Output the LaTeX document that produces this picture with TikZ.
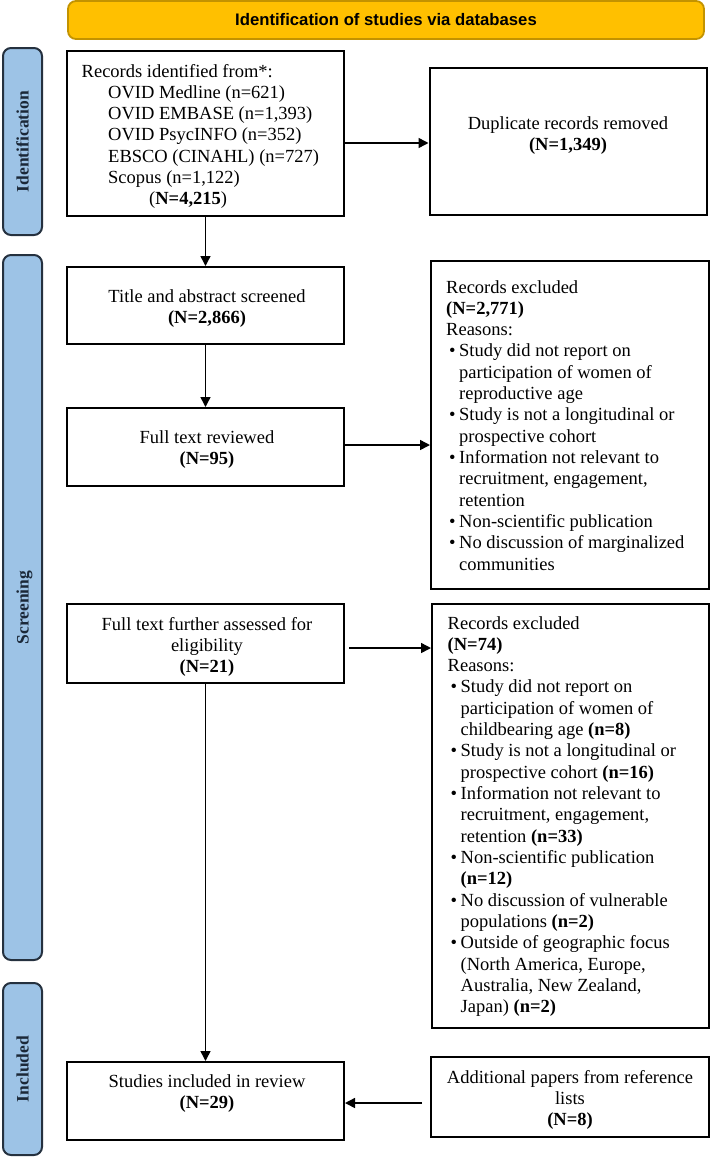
\documentclass[tikz,border=0pt]{standalone}
\usepackage{fontspec}
\setmainfont{Liberation Serif}
\newfontfamily\hdfont{Liberation Sans}
\usetikzlibrary{arrows.meta}
\definecolor{gold}{HTML}{FFC000}
\definecolor{goldline}{HTML}{C39300}
\definecolor{sideblue}{HTML}{9DC3E6}
\definecolor{sideline}{HTML}{25313F}
\definecolor{sidetext}{HTML}{1B2838}
\newcommand{\bitem}{\makebox[13pt][l]{\hspace{3pt}\textbullet}}
\newcommand{\bcont}{\hspace*{13pt}}
\begin{document}
\begin{tikzpicture}[x=1pt,y=-1pt,
  box/.style={draw=black, line width=2pt, fill=white, inner sep=0pt},
  side/.style={draw=sideline, line width=2pt, fill=sideblue, rounded corners=8pt, inner sep=0pt, minimum width=39pt},
  sidetxt/.style={rotate=90, anchor=base, text=sidetext, font=\fontsize{17.5}{20}\selectfont\bfseries, inner sep=0pt},
  txt/.style={inner sep=0pt, font=\fontsize{18.5}{21.33}\selectfont},
  arr/.style={line width=1.5pt, -{Triangle[length=10pt,width=10pt]}}]
\useasboundingbox (0,0) rectangle (710,1157);
% header
\node[draw=goldline, line width=1.8pt, fill=gold, rounded corners=8pt, minimum width=636pt, minimum height=38pt, inner sep=0pt,
  font=\hdfont\bfseries\fontsize{16.7}{20}\selectfont] (hd) at (386,20) {Identification of studies via databases};
% side bars
\node[side, minimum height=187pt] (sid) at (22.5,141.5) {};
\node[sidetxt] (sidt) at (28.5,141.5) {Identification};
\node[side, minimum height=705pt] (sscr) at (22.5,607.5) {};
\node[sidetxt] (sscrt) at (28.5,607.5) {Screening};
\node[side, minimum height=172pt] (sinc) at (22.5,1069) {};
\node[sidetxt] (sinct) at (28.5,1069) {Included};
% left column boxes
\node[box, minimum width=277pt, minimum height=165pt] (rec) at (205.5,133.5) {};
\node[box, minimum width=277pt, minimum height=77pt] (title) at (205.5,305.5) {};
\node[box, minimum width=277pt, minimum height=78pt] (full) at (205.5,447) {};
\node[box, minimum width=277pt, minimum height=79pt] (further) at (205.5,643.5) {};
\node[box, minimum width=277pt, minimum height=78pt] (studies) at (205.5,1101) {};
% right column boxes
\node[box, minimum width=277pt, minimum height=147pt] (dup) at (568,141.5) {};
\node[box, minimum width=278pt, minimum height=328pt] (ex1) at (570,425) {};
\node[box, minimum width=277pt, minimum height=424pt] (ex2) at (570.5,816) {};
\node[box, minimum width=278pt, minimum height=80pt] (add) at (570,1097) {};
% texts
\node[txt, anchor=base west] (rect) at (81.5,77) {\parbox[t]{255pt}{\raggedright
Records identified from*:\\
\hspace*{26.5pt}OVID Medline (n=621)\\
\hspace*{26.5pt}OVID EMBASE (n=1,393)\\
\hspace*{26.5pt}OVID PsycINFO (n=352)\\
\hspace*{26.5pt}EBSCO (CINAHL) (n=727)\\
\hspace*{26.5pt}Scopus (n=1,122)\\
\hspace*{67.5pt}(\textbf{N=4,215})}};
\node[txt, anchor=base] (dupt) at (568,129) {\parbox[t]{260pt}{\centering
Duplicate records removed\\ \textbf{(N=1,349)}}};
\node[txt, anchor=base] (titlet) at (207,302) {\parbox[t]{260pt}{\centering
Title and abstract screened\\ \textbf{(N=2,866)}}};
\node[txt, anchor=base] (fullt) at (207,443) {\parbox[t]{260pt}{\centering
Full text reviewed\\ \textbf{(N=95)}}};
\node[txt, anchor=base] (furthert) at (207,630) {\parbox[t]{260pt}{\centering
Full text further assessed for\\ eligibility\\ \textbf{(N=21)}}};
\node[txt, anchor=base] (studiest) at (207,1087) {\parbox[t]{260pt}{\centering
Studies included in review\\ \textbf{(N=29)}}};
\node[txt, anchor=base] (addt) at (570,1083) {\parbox[t]{270pt}{\centering
Additional papers from reference\\ lists\\ \textbf{(N=8)}}};
\node[txt, anchor=base west] (ex1t) at (446,293) {\parbox[t]{258pt}{\raggedright
Records excluded\\
\textbf{(N=2,771)}\\
Reasons:\\
\bitem Study did not report on\\
\bcont participation of women of\\
\bcont reproductive age\\
\bitem Study is not a longitudinal or\\
\bcont prospective cohort\\
\bitem Information not relevant to\\
\bcont recruitment, engagement,\\
\bcont retention\\
\bitem Non-scientific publication\\
\bitem No discussion of marginalized\\
\bcont communities}};
\node[txt, anchor=base west] (ex2t) at (447.5,629) {\parbox[t]{258pt}{\raggedright
Records excluded\\
\textbf{(N=74)}\\
Reasons:\\
\bitem Study did not report on\\
\bcont participation of women of\\
\bcont childbearing age \textbf{(n=8)}\\
\bitem Study is not a longitudinal or\\
\bcont prospective cohort \textbf{(n=16)}\\
\bitem Information not relevant to\\
\bcont recruitment, engagement,\\
\bcont retention \textbf{(n=33)}\\
\bitem Non-scientific publication\\
\bcont \textbf{(n=12)}\\
\bitem No discussion of vulnerable\\
\bcont populations \textbf{(n=2)}\\
\bitem Outside of geographic focus\\
\bcont (North America, Europe,\\
\bcont Australia, New Zealand,\\
\bcont Japan) \textbf{(n=2)}}};
% connectors
\draw[arr] (rec.east |- 0,143) -- (dup.west |- 0,143);
\draw[arr] (rec.south) -- (title.north);
\draw[arr] (title.south) -- (full.north);
\draw[arr] (full.east |- 0,445) -- (ex1.west |- 0,445);
\draw[arr, shorten <=4pt] (further.east |- 0,648) -- (ex2.west |- 0,648);
\draw[arr] (further.south) -- (studies.north);
\draw[arr, shorten <=8pt] (add.west |- 0,1103) -- (studies.east |- 0,1103);
\end{tikzpicture}
\end{document}
